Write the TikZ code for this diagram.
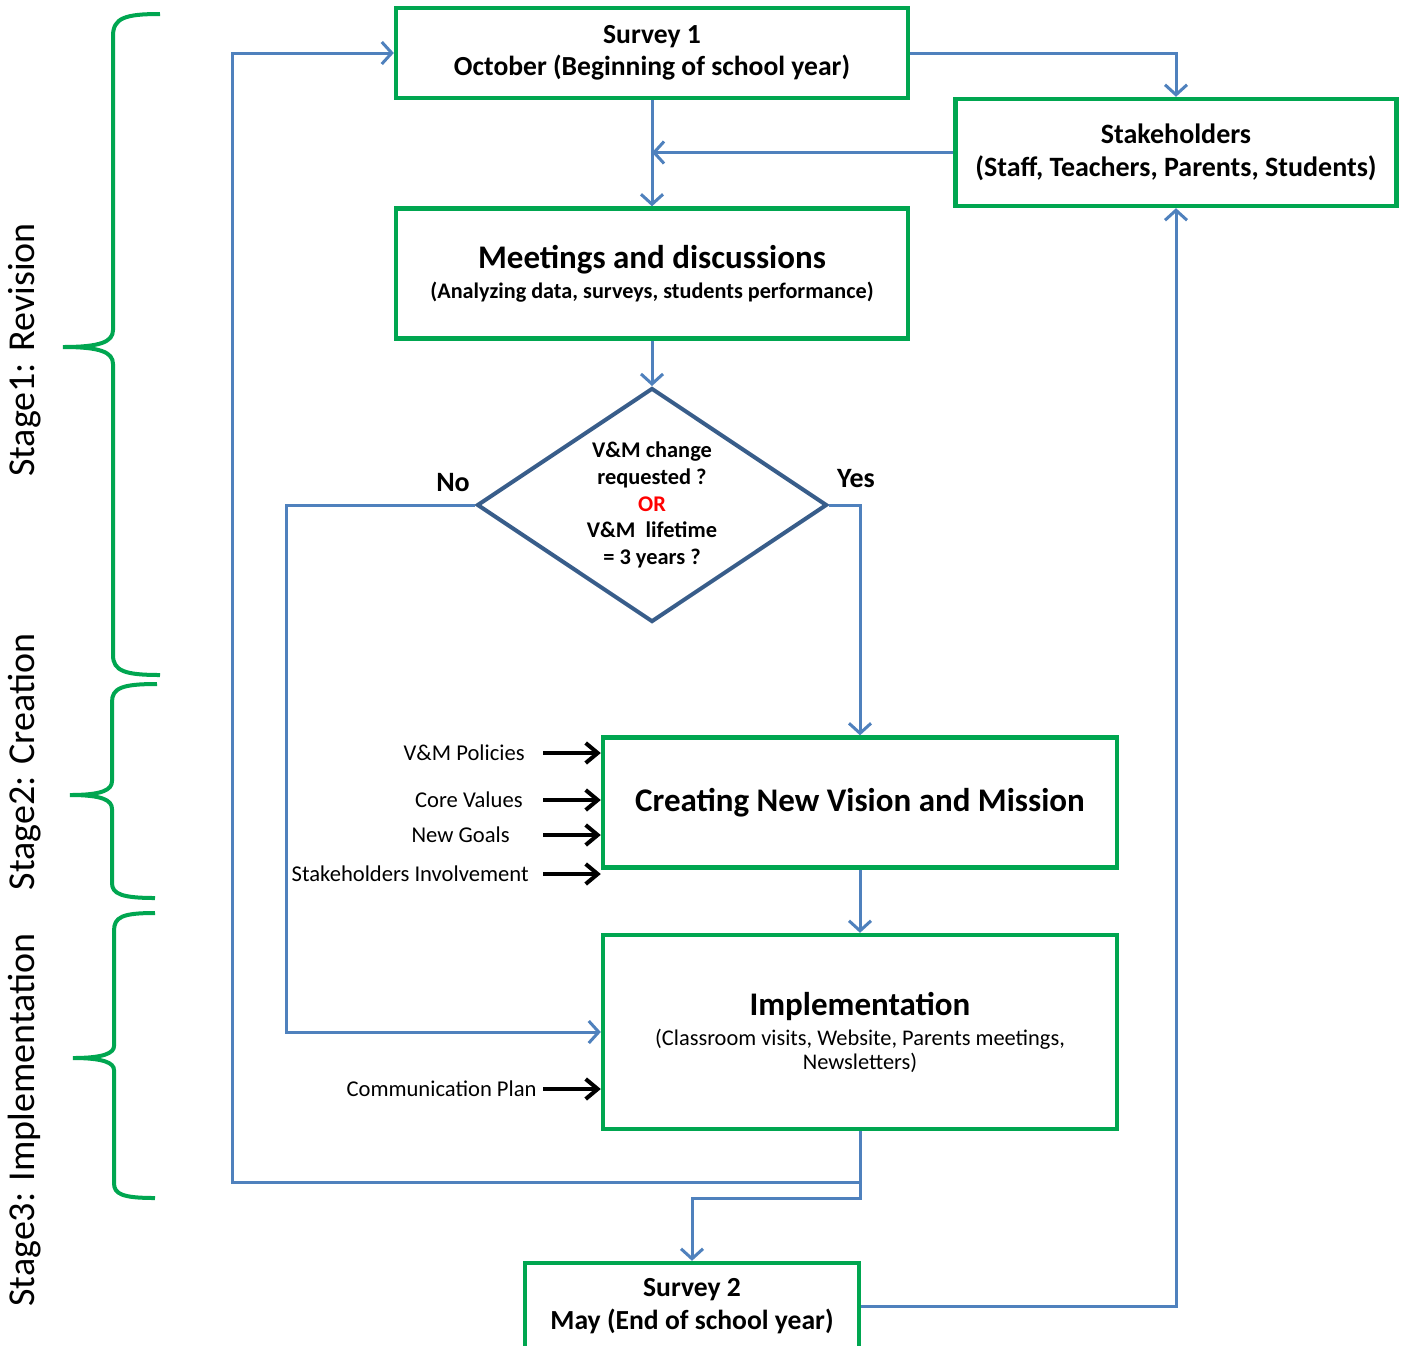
\documentclass[tikz,border=0pt]{standalone}
\usepackage{fontspec}
\setmainfont{Carlito}
\usetikzlibrary{shapes.geometric,arrows.meta}

\definecolor{boxgreen}{RGB}{0,166,80}
\definecolor{flowblue}{RGB}{79,129,189}
\definecolor{decblue}{RGB}{56,93,138}

\tikzset{
  box/.style={draw=boxgreen, line width=2.2pt, fill=white, inner sep=0pt, align=center},
  decision/.style={diamond, draw=decblue, line width=2pt, aspect=1.5,
    minimum width=175pt, minimum height=117pt, inner sep=0pt, align=center,
    font=\bfseries\fontsize{11.2}{13.3}\selectfont},
  flow/.style={draw=flowblue, line width=1.5pt, -{Straight Barb[length=5pt,width=11pt]}},
  feed/.style={draw=black, line width=2pt, -{Straight Barb[length=6pt,width=10pt]}},
  side/.style={anchor=east, inner sep=0pt, font=\fontsize{11.3}{13}\selectfont},
  answer/.style={inner sep=0pt, font=\bfseries\fontsize{14}{16}\selectfont},
  stage/.style={rotate=90, inner sep=0pt, font=\fontsize{19}{22}\selectfont},
  bracket/.style={draw=boxgreen, line width=2pt}
}

\begin{document}
\begin{tikzpicture}[x=0.5pt, y=-0.5pt]
  \useasboundingbox[fill=white] (0,0) rectangle (1403,1345);

  % boxes
  \node[box, minimum width=256pt, minimum height=45pt, font=\bfseries\fontsize{13.8}{16}\selectfont]
    (s1) at (652,53) {Survey 1\\October (Beginning of school year)};
  \node[box, minimum width=220.5pt, minimum height=53.5pt, font=\bfseries\fontsize{14}{16.5}\selectfont]
    (stake) at (1176,152.5) {Stakeholders\\(Staff, Teachers, Parents, Students)};
  \node[box, minimum width=256pt, minimum height=65pt]
    (meet) at (652,273.5) {{\bfseries\fontsize{16.5}{19}\selectfont Meetings and discussions}\\[3pt]
    {\bfseries\fontsize{11.1}{13}\selectfont (Analyzing data, surveys, students performance)}};
  \node[decision] (dec) at (652,505)
    {V\&M change\\requested ?\\{\color{red}OR}\\V\&M~~lifetime\\= 3 years ?};
  \node[box, minimum width=257pt, minimum height=65pt, font=\bfseries\fontsize{16.5}{19}\selectfont]
    (create) at (860,802.5) {Creating New Vision and Mission};
  \node[box, minimum width=257pt, minimum height=97pt]
    (impl) at (860,1032) {{\bfseries\fontsize{16.5}{19}\selectfont Implementation}\\[3pt]
    {\fontsize{11.2}{14}\selectfont (Classroom visits, Website, Parents meetings,}\\
    {\fontsize{11.2}{14}\selectfont Newsletters)}};
  \node[box, minimum width=167pt, minimum height=43pt, font=\bfseries\fontsize{13.8}{16.5}\selectfont]
    (s2) at (692,1306) {Survey 2\\May (End of school year)};

  \node[answer] (no) at (453,483) {No};
  \node[answer] (yes) at (856,479) {Yes};

  % flow lines
  \coordinate (nobend) at (286,505);
  \coordinate (split) at (860,1182);
  \coordinate (back) at (232,1182);
  \coordinate (drop) at (860,1198);
  \draw[flow] (s1.east) -| (stake.north);
  \draw[flow] (stake.west) -- (stake.west -| s1.south);
  \draw[flow] (s1) -- (meet);
  \draw[flow] (meet) -- (dec);
  \draw[flow] (dec.east) -| (create.north);
  \draw[flow] (dec.west) -- (nobend) |- (impl.west);
  \draw[flow] (create) -- (impl);
  \draw[flow] (impl.south) -- (split) -- (back) |- (s1.west);
  \draw[flow] (split) -- (drop) -| (s2.north);
  \draw[flow] (s2.east) -| (stake.south);

  % inputs
  \coordinate (feedx) at (543,0);
  \node[side] (pol) at (525,753) {V\&M Policies};
  \node[side] (core) at (523,800) {Core Values};
  \node[side] (goal) at (510,835) {New Goals};
  \node[side] (inv) at (529,874) {Stakeholders Involvement};
  \node[side] (comm) at (537,1089) {Communication Plan};
  \draw[feed] (pol.east -| feedx) -- (pol.east -| create.west);
  \draw[feed] (core.east -| feedx) -- (core.east -| create.west);
  \draw[feed] (goal.east -| feedx) -- (goal.east -| create.west);
  \draw[feed] (inv.east -| feedx) -- (inv.east -| create.west);
  \draw[feed] (comm.east -| feedx) -- (comm.east -| impl.west);

  % stages
  \draw[bracket] (160,14) .. controls (125,14) and (113,18) .. (113,36) -- (113,330)
    .. controls (113,342) and (100,347) .. (63,347) .. controls (100,347) and (113,352) .. (113,364)
    -- (113,655) .. controls (113,671) and (125,675) .. (160,675);
  \draw[bracket] (157,684) .. controls (122,684) and (112,688) .. (112,702) -- (112,781)
    .. controls (112,790) and (102,795) .. (70,795) .. controls (102,795) and (112,800) .. (112,809)
    -- (112,883) .. controls (112,894) and (122,898) .. (155,898);
  \draw[bracket] (155,913) .. controls (122,913) and (114,917) .. (114,931) -- (114,1046)
    .. controls (114,1053) and (104,1058) .. (73,1058) .. controls (104,1058) and (114,1063) .. (114,1070)
    -- (114,1183) .. controls (114,1194) and (122,1198) .. (155,1198);
  \node[stage] (st1) at (25,350) {Stage1: Revision};
  \node[stage] (st2) at (25,762) {Stage2: Creation};
  \node[stage] (st3) at (25,1120) {Stage3: Implementation};
\end{tikzpicture}
\end{document}
